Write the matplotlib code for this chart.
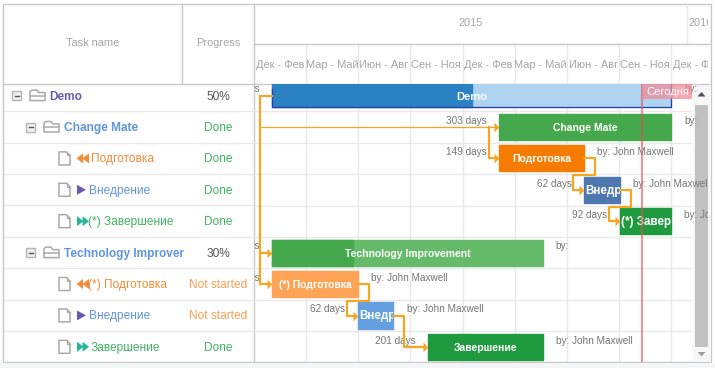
import matplotlib
matplotlib.use('Agg')
import matplotlib.pyplot as plt
from matplotlib.patches import Polygon, Rectangle

plt.rcParams['font.family'] = ['Liberation Sans', 'DejaVu Sans']

W, H = 715, 368

# ---- table data
task_names = ['Demo', 'Change Mate', 'Подготовка', 'Внедрение', '(*) Завершение',
              'Technology Improven', '(*) Подготовка', 'Внедрение', 'Завершение']
progress_txt = ['50%', 'Done', 'Done', 'Done', 'Done', '30%', 'Not started', 'Not started', 'Done']
name_colors = ['#6a5bb0', '#5f95dc', '#f58b35', '#5f95dc', '#3db562',
               '#5f95dc', '#f58b35', '#5f95dc', '#3db562']
prog_colors = ['#555555', '#3db562', '#3db562', '#3db562', '#3db562',
               '#555555', '#f9a050', '#f9a050', '#3db562']
row_kind = ['root', 'group', 'prep', 'impl', 'end', 'group', 'prep', 'impl', 'end']

# ---- gantt data (days from the start of the timeline)
bar_labels = ['Demo', 'Change Mate', 'Подготовка', 'Внедрение', '(*) Завершение',
              'Technology Improvement', '(*) Подготовка', 'Внедрение', 'Завершение']
starts = [32, 429, 429, 578, 640, 32, 32, 182, 304]
ends = [730, 730, 578, 640, 730, 505, 182, 244, 505]
done = [0.5, 1, 1, 1, 1, 0.3, 1, 1, 1]
bar_colors = ['#2b82c2', '#45a84c', '#f57c00', '#4f78b0', '#1f9a3f',
              '#45a84c', '#ffa357', '#64a0e0', '#1f9a3f']
rest_colors = ['#aed3f0', None, None, None, None, '#66bb6a', None, None, None]
dur_labels = ['699 days', '303 days', '149 days', '62 days', '92 days',
              '474 days', '150 days', '62 days', '201 days']
by_labels = ['by:', 'by:', 'by: John Maxwell', 'by: John Maxwell', 'by: John Maxwell',
             'by:', 'by: John Maxwell', 'by: John Maxwell', 'by: John Maxwell']
links = [(2, 3), (3, 4), (6, 7)]
today = 679

quarters = ['Дек - Фев', 'Мар - Май', 'Июн - Авг', 'Сен - Ноя'] * 2 + ['Дек - Фев']
quarter_ticks = [91, 182, 273, 365, 456, 548, 639, 730]
years = ['2015', '2016']
year_end = 757

GRID = '#e9e9e9'
BORDER = '#c9c9c9'
HEAD = '#a6a6a6'
ORANGE = '#f5a623'
TXT = '#757575'

fig = plt.figure(figsize=(W / 100, H / 100), dpi=100, facecolor='white')

# whole-figure axes in pixels for the table and the frame
ax = fig.add_axes([0, 0, 1, 1])
ax.set_xlim(0, W)
ax.set_ylim(H, 0)
ax.axis('off')

# gantt axes, in days and rows
L, R, T, B = 254, 692, 84, 362
gx = fig.add_axes([L / W, 1 - B / H, (R - L) / W, (B - T) / H])
gx.patch.set_alpha(0)
gx.set_xlim(0, (R - L) * 1.75)
gx.set_ylim(8.48, -0.37)
gx.axis('off')


def row_y(i):
    return 95.6 + 31.4 * i


def folder(x, y):
    ax.add_patch(Polygon([(x, y + 5), (x, y - 4), (x + 2, y - 5.5), (x + 7, y - 5.5), (x + 9, y - 3),
                          (x + 15, y - 3), (x + 15, y + 5)], closed=True, fc='white', ec='#a9a9a9', lw=1.1))
    ax.plot([x, x + 15], [y, y], color='#a9a9a9', lw=1.1)


def doc(x, y):
    ax.add_patch(Polygon([(x, y - 6.5), (x + 7.5, y - 6.5), (x + 11, y - 3), (x + 11, y + 6.5), (x, y + 6.5)],
                         closed=True, fc='white', ec='#aaaaaa', lw=1.1))
    ax.plot([x + 7.5, x + 7.5, x + 11], [y - 6.5, y - 3, y - 3], color='#aaaaaa', lw=0.9)


def minus(x, y):
    ax.add_patch(Rectangle((x, y - 4.5), 9, 9, fc='#f0f0f0', ec='#b5b5b5', lw=1))
    ax.plot([x + 2.5, x + 6.5], [y, y], color='#555555', lw=1)


def tri(x, y, direction, color, w=6.5, h=5):
    ax.add_patch(Polygon([(x, y - h), (x, y + h), (x + direction * w, y)], closed=True, fc=color, ec='none'))


def clipped(t, patch):
    # has to be set after the text is added, the axes overwrite it otherwise
    t.set_clip_on(True)
    t.set_clip_path(patch)


# row lines and column lines
for i in range(8):
    y = row_y(i) + 15.7
    ax.plot([3, 254], [y, y], color=GRID, lw=1, zorder=1)
    gx.axhline(i + 0.5, color=GRID, lw=1, zorder=0)
for t in quarter_ticks:
    gx.axvline(t, color=GRID, lw=1, zorder=0)

# table body
name_clip = Rectangle((0, 0), 183.5, H, transform=ax.transData)
for i, name in enumerate(task_names):
    y = row_y(i)
    kind = row_kind[i]
    if kind == 'root':
        minus(12, y)
        folder(30, y)
        tx = 49.5
    elif kind == 'group':
        minus(26, y)
        folder(44, y)
        tx = 63.5
    else:
        doc(59, y)
        if kind == 'prep':
            tri(83, y, -1, '#f58b35')
            tri(89, y, -1, '#f58b35')
            tx = 91 if not name.startswith('(*)') else 88
        elif kind == 'impl':
            tri(77, y, 1, '#6a5bb0', w=9)
            tx = 89
        else:
            tri(77, y, 1, '#25b59a')
            tri(82.5, y, 1, '#25b59a')
            tx = 91 if not name.startswith('(*)') else 88
    bold = kind in ('root', 'group')
    t = ax.text(tx, y + 1, name, color=name_colors[i], fontsize=8.6, va='center', ha='left',
                fontweight='bold' if bold else 'normal')
    clipped(t, name_clip)
    ax.text(218, y + 1, progress_txt[i], color=prog_colors[i], fontsize=8.6, va='center', ha='center')

# header
ax.text(92.5, 43, 'Task name', color=HEAD, fontsize=7.9, ha='center', va='center')
ax.text(218, 43, 'Progress', color=HEAD, fontsize=7.9, ha='center', va='center')
clip_head = Rectangle((L, 0), 708 - L, H, transform=ax.transData)
ax.text(L + year_end / 2 / 1.75, 23, years[0], color=HEAD, fontsize=7.9, ha='center', va='center')
t = ax.text(L + year_end / 1.75 + 1.5, 23, years[1], color=HEAD, fontsize=7.9, ha='left', va='center')
clipped(t, clip_head)
edges = [0] + quarter_ticks
for i, q in enumerate(quarters):
    cx = (edges[i] + 91 / 2) / 1.75 + L
    t = ax.text(cx, 64.5, q, color=HEAD, fontsize=7.9, ha='center', va='center')
    clipped(t, clip_head)
for t in quarter_ticks:
    ax.plot([L + t / 1.75] * 2, [44, 83], color=GRID, lw=1, zorder=1)
ax.plot([L + year_end / 1.75] * 2, [4, 44], color=GRID, lw=1)
ax.plot([L, 711], [44, 44], color=BORDER, lw=1)
ax.plot([2.5, 711], [83.5, 83.5], color=BORDER, lw=1)
ax.plot([181.5, 181.5], [3.5, 83], color=BORDER, lw=1)
ax.plot([253.5, 253.5], [3.5, 362], color=BORDER, lw=1)
ax.add_patch(Rectangle((2.5, 3.5), 708.5, 358.5, fc='none', ec=BORDER, lw=1))
ax.add_patch(Rectangle((0, 363), W, 5, fc='#f5f6f8', ec='none'))

# bars
side_clip = Rectangle((L, 0), 708 - L, H, transform=ax.transData)
for i, lab in enumerate(bar_labels):
    height = 0.74 if i == 0 else 0.83
    width = ends[i] - starts[i]
    if rest_colors[i]:
        gx.barh(i, width, left=starts[i], height=height, color=rest_colors[i], zorder=2,
                edgecolor=rest_colors[i], linewidth=1.0, joinstyle='round')
    gx.barh(i, width * done[i], left=starts[i], height=height, color=bar_colors[i], zorder=2,
            edgecolor=bar_colors[i], linewidth=1.0, joinstyle='round')
    if i == 0:
        gx.plot([starts[i], starts[i], ends[i], ends[i]],
                [i - 0.2, i + height / 2, i + height / 2, i - height / 2],
                color='#2440a8', lw=0.9, zorder=3)
    clip = Rectangle((starts[i], i - height / 2), width, height, transform=gx.transData)
    fits = width > 125
    tx = (starts[i] + ends[i]) / 2 if fits else starts[i] + 2
    size = 8.4 if not fits else (8.0 if i == 0 else 7.5)
    t = gx.text(tx, i + 0.03, lab, color='white', fontsize=size, fontweight='bold', va='center',
                ha='center' if fits else 'left', zorder=4)
    clipped(t, clip)
    # side captions
    t = gx.text(starts[i] - 22, i - 0.2, dur_labels[i], color=TXT, fontsize=7.2, ha='right', va='center', zorder=5)
    clipped(t, side_clip)
    t = gx.text(ends[i] + 23, i - 0.2, by_labels[i], color=TXT, fontsize=7.2, ha='left', va='center', zorder=1)
    clipped(t, side_clip)

# dependency links
LINK_W = 1.6
ARROW = [(0, -1), (1, 0), (0, 1), (0, -1)]
kids = [1, 5, 6]
spine = 10
top_y = 0
gx.plot([starts[0], spine], [top_y, top_y], color=ORANGE, lw=LINK_W, zorder=5)
gx.plot([spine, spine], [top_y, kids[-1]], color=ORANGE, lw=LINK_W, zorder=5)
gx.plot([spine, starts[1] - 8], [1, 1], color=ORANGE, lw=0.9, zorder=1)
gx.plot([starts[1] - 18, starts[1] - 18, starts[1] - 8], [1, 2, 2], color=ORANGE, lw=LINK_W, zorder=5)
for k in [5, 6]:
    gx.plot([spine, starts[k] - 8], [k, k], color=ORANGE, lw=LINK_W, zorder=5)
for a, b in links:
    xa = ends[a]
    xb = starts[b]
    gx.plot([xa, xa + 19, xa + 19, xb - 19, xb - 19, xb - 8],
            [a, a, a + 0.54, a + 0.54, b, b], color=ORANGE, lw=LINK_W, zorder=5)
xa = ends[7]
xb = starts[8]
gx.plot([xa, xa + 19, xa + 19, xb - 8], [7, 7, 8, 8], color=ORANGE, lw=LINK_W, zorder=5)
for k in [1, 2, 3, 4, 5, 6, 7, 8]:
    gx.plot([starts[k] - 8.5], [k], marker=ARROW, ms=7, color=ORANGE, mec='none', zorder=5, clip_on=False)

# today marker
gx.axvline(today, color='#e0505a', lw=1.5, alpha=0.6, zorder=6)
gx.barh(-0.13, (R - L) * 1.75 - today, left=today, height=0.48, color='#f08a96', alpha=0.75, zorder=6)
gx.text(today + 7, -0.13, 'Сегодня', color='white', fontsize=8.0, va='center', ha='left', zorder=7, clip_on=True)

# scrollbar
ax.add_patch(Rectangle((692.5, 84), 18, 278, fc='#f7f7f7', ec='none'))
ax.add_patch(Rectangle((695, 105), 13, 242, fc='#c1c1c1', ec='none'))
ax.add_patch(Polygon([(697.5, 96.5), (705.5, 96.5), (701.5, 92)], closed=True, fc='#505050', ec='none'))
ax.add_patch(Polygon([(697.5, 352), (705.5, 352), (701.5, 356.5)], closed=True, fc='#a0a0a0', ec='none'))

fig.savefig('out.png', dpi=100)
